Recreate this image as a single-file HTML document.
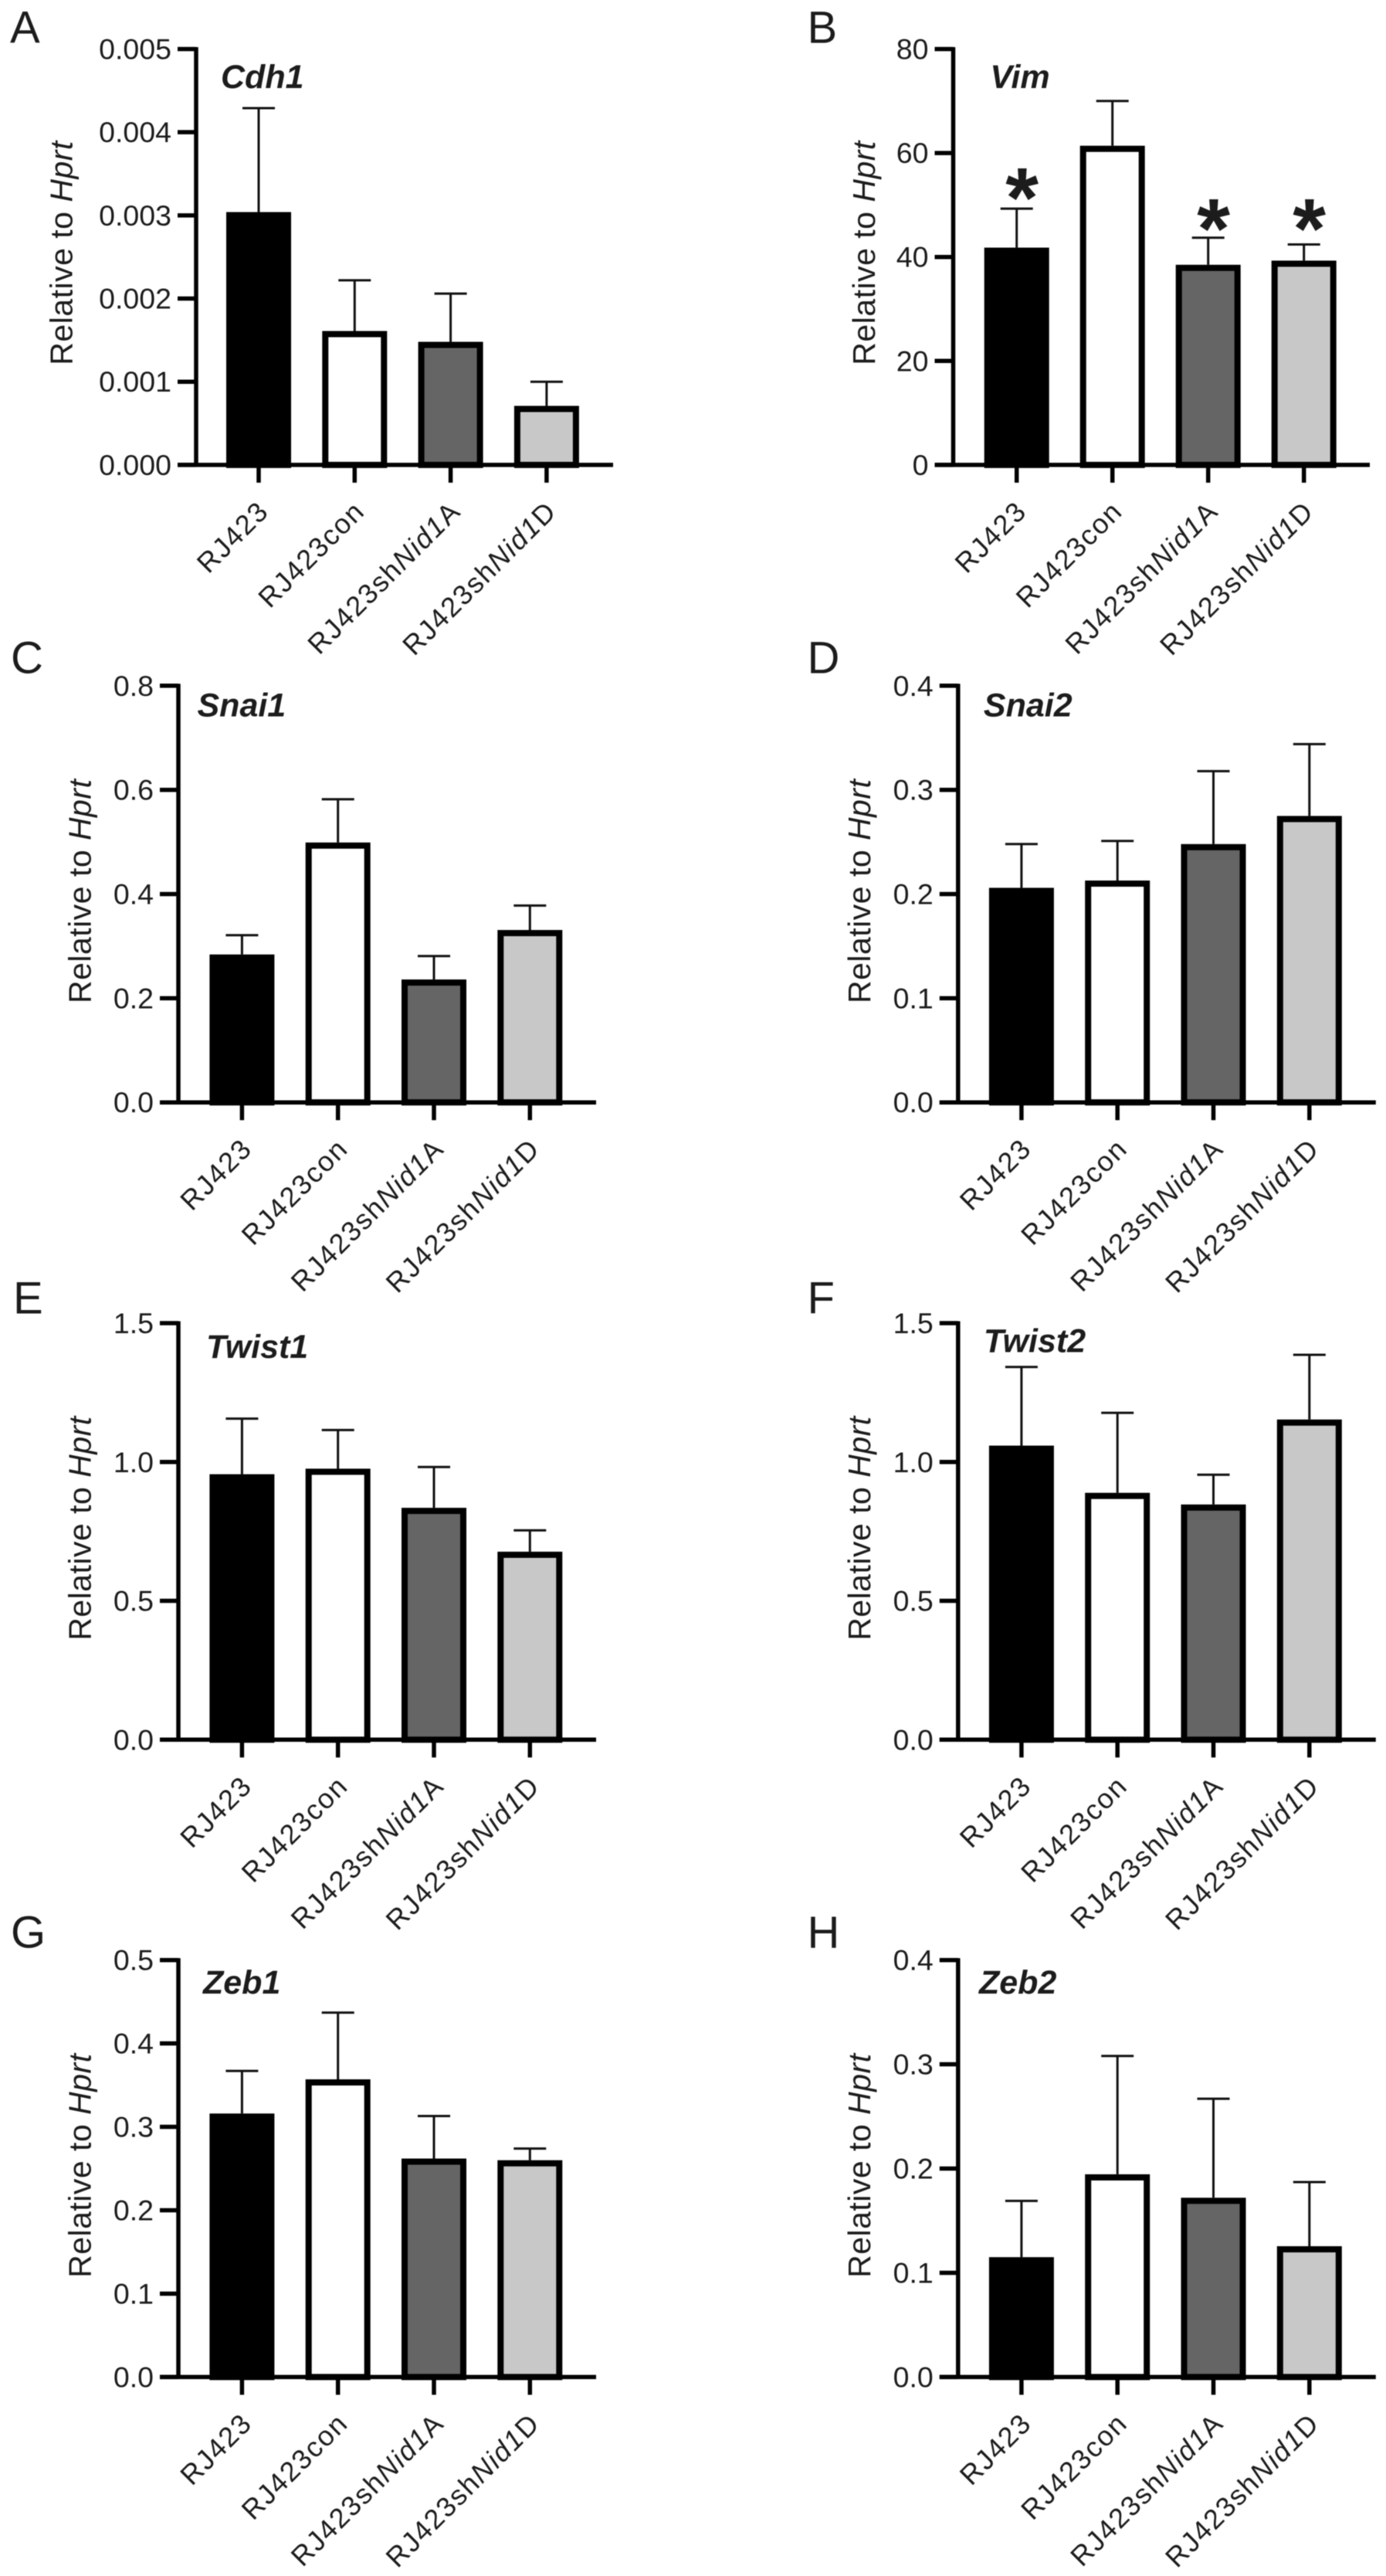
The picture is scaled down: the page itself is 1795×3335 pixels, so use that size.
<!DOCTYPE html>
<html lang="en">
<head>
<meta charset="utf-8">
<title>Relative expression of EMT genes to Hprt</title>
<style>
  html, body { margin: 0; padding: 0; background: #fff; }
  #figure { display: block; width: 1795px; height: 3335px; filter: blur(0.6px); }
  text { font-family: "Liberation Sans", sans-serif; fill: #1c1c1c; }
</style>
</head>
<body>
<svg id="figure" xmlns="http://www.w3.org/2000/svg" width="1795" height="3335" viewBox="0 0 1795 3335"></svg>
<script>
const categories = ['RJ423', 'RJ423con', 'RJ423shNid1A', 'RJ423shNid1D'];

const cdh1Means = [0.00304, 0.00161, 0.00148, 0.00071];
const cdh1Errors = [0.00429, 0.00222, 0.00206, 0.00100];
const cdh1Ticks = ['0.000', '0.001', '0.002', '0.003', '0.004', '0.005'];

const vimMeans = [41.8, 61.4, 38.5, 39.3];
const vimErrors = [49.3, 70.0, 43.7, 42.4];
const vimTicks = ['0', '20', '40', '60', '80'];
const vimStars = [53.6, null, 47.7, 47.7];

const snai1Means = [0.284, 0.499, 0.236, 0.331];
const snai1Errors = [0.321, 0.582, 0.281, 0.378];
const snai1Ticks = ['0.0', '0.2', '0.4', '0.6', '0.8'];

const snai2Means = [0.206, 0.213, 0.248, 0.275];
const snai2Errors = [0.248, 0.251, 0.318, 0.344];
const snai2Ticks = ['0.0', '0.1', '0.2', '0.3', '0.4'];

const twist1Means = [0.956, 0.976, 0.835, 0.677];
const twist1Errors = [1.156, 1.115, 0.982, 0.754];
const twist1Ticks = ['0.0', '0.5', '1.0', '1.5'];

const twist2Means = [1.059, 0.889, 0.847, 1.153];
const twist2Errors = [1.342, 1.177, 0.954, 1.386];
const twist2Ticks = ['0.0', '0.5', '1.0', '1.5'];

const zeb1Means = [0.316, 0.357, 0.262, 0.260];
const zeb1Errors = [0.367, 0.437, 0.313, 0.274];
const zeb1Ticks = ['0.0', '0.1', '0.2', '0.3', '0.4', '0.5'];

const zeb2Means = [0.115, 0.1945, 0.172, 0.1255];
const zeb2Errors = [0.169, 0.308, 0.267, 0.187];
const zeb2Ticks = ['0.0', '0.1', '0.2', '0.3', '0.4'];

const panels = [
  { letter: 'A', gene: 'Cdh1', means: cdh1Means, errors: cdh1Errors, ticks: cdh1Ticks, stars: null,
    frame: { axisX: 254, top: 63.5, zero: 601.9, first: 335, step: 124.3, right: 794 },
    letterPos: [13, 55.6], genePos: [286, 113.8], titlePos: [93.6, 472.7] },
  { letter: 'B', gene: 'Vim', means: vimMeans, errors: vimErrors, ticks: vimTicks, stars: vimStars,
    frame: { axisX: 1234.5, top: 63.5, zero: 601.9, first: 1316.7, step: 124, right: 1774 },
    letterPos: [1045.5, 55.6], genePos: [1282.4, 113.8], titlePos: [1132.9, 472.7] },
  { letter: 'C', gene: 'Snai1', means: snai1Means, errors: snai1Errors, ticks: snai1Ticks, stars: null,
    frame: { axisX: 231, top: 887.8, zero: 1427.2, first: 313.4, step: 124.3, right: 772 },
    letterPos: [14, 871.4], genePos: [255.5, 927.5], titlePos: [117.7, 1299] },
  { letter: 'D', gene: 'Snai2', means: snai2Means, errors: snai2Errors, ticks: snai2Ticks, stars: null,
    frame: { axisX: 1240.8, top: 887.8, zero: 1427.2, first: 1322.9, step: 124.3, right: 1781.8 },
    letterPos: [1045.5, 871.4], genePos: [1273.9, 927.5], titlePos: [1127, 1299] },
  { letter: 'E', gene: 'Twist1', means: twist1Means, errors: twist1Errors, ticks: twist1Ticks, stars: null,
    frame: { axisX: 231, top: 1713, zero: 2252.3, first: 313.4, step: 124.3, right: 772 },
    letterPos: [17, 1700.3], genePos: [267, 1758], titlePos: [117.7, 2123.8] },
  { letter: 'F', gene: 'Twist2', means: twist2Means, errors: twist2Errors, ticks: twist2Ticks, stars: null,
    frame: { axisX: 1240.8, top: 1713, zero: 2252.3, first: 1322.9, step: 124.3, right: 1781.8 },
    letterPos: [1045.5, 1700.3], genePos: [1273.9, 1750.6], titlePos: [1127, 2123.8] },
  { letter: 'G', gene: 'Zeb1', means: zeb1Means, errors: zeb1Errors, ticks: zeb1Ticks, stars: null,
    frame: { axisX: 231, top: 2537.6, zero: 3077.4, first: 313.4, step: 124.3, right: 772 },
    letterPos: [14, 2521.4], genePos: [263, 2581], titlePos: [117.7, 2948.9] },
  { letter: 'H', gene: 'Zeb2', means: zeb2Means, errors: zeb2Errors, ticks: zeb2Ticks, stars: null,
    frame: { axisX: 1240.8, top: 2537.6, zero: 3077.4, first: 1322.9, step: 124.3, right: 1781.8 },
    letterPos: [1045.5, 2521.4], genePos: [1268, 2581], titlePos: [1127, 2948.9] }
];

const barFills = ['#000000', '#ffffff', '#656565', '#c8c8c8'];
const NS = 'http://www.w3.org/2000/svg';
const root = document.getElementById('figure');

function make(tag, attrs, parent) {
  const node = document.createElementNS(NS, tag);
  Object.keys(attrs).forEach(function (key) { node.setAttribute(key, attrs[key]); });
  parent.appendChild(node);
  return node;
}

function slug(value) {
  return String(value).toLowerCase().replace(/[^a-z0-9]+/g, '-');
}

panels.forEach(function (panel) {
  const f = panel.frame;
  const tickValues = panel.ticks.map(Number);
  const yMax = Math.max.apply(null, tickValues);
  const yScale = function (v) { return f.zero - (v / yMax) * (f.zero - f.top); };
  const xScale = function (i) { return f.first + i * f.step; };
  const id = slug(panel.gene);

  const group = make('g', {}, root);
  
  

  const letter = make('text', { x: panel.letterPos[0], y: panel.letterPos[1], 'font-size': 58 }, group);
  letter.textContent = panel.letter;
  
  

  const gene = make('text', { x: panel.genePos[0], y: panel.genePos[1], 'font-size': 43, 'font-weight': 'bold', 'font-style': 'italic' }, group);
  gene.textContent = panel.gene;
  
  

  const yTitle = make('text', {
    transform: 'translate(' + panel.titlePos[0] + ',' + panel.titlePos[1] + ') rotate(-90)',
    'font-size': 41, textLength: 290, lengthAdjust: 'spacing'
  }, group);
  
  
  const yPlain = make('tspan', {}, yTitle);
  yPlain.textContent = 'Relative to ';
  const yItalic = make('tspan', { 'font-style': 'italic' }, yTitle);
  yItalic.textContent = 'Hprt';

  panel.means.forEach(function (mean, i) {
    const cx = xScale(i);

    const errLine = make('line', { x1: cx, x2: cx, y1: yScale(mean), y2: yScale(panel.errors[i]), stroke: '#111', 'stroke-width': 3 }, group);
    
    

    const errCap = make('line', { x1: cx - 21, x2: cx + 21, y1: yScale(panel.errors[i]), y2: yScale(panel.errors[i]), stroke: '#111', 'stroke-width': 3 }, group);
    
    

    const top = yScale(mean) + 4;
    const bar = make('rect', { x: cx - 38, y: top, width: 76, height: Math.max(0, f.zero - top), fill: barFills[i], stroke: '#000', 'stroke-width': 8 }, group);
    
    

    if (panel.stars && panel.stars[i] !== null) {
      const star = make('text', { x: cx + 7, y: yScale(panel.stars[i]) + 53, 'font-size': 110, 'font-weight': 'bold', 'text-anchor': 'middle' }, group);
      star.textContent = '*';
      
      
    }

    const xTick = make('line', { x1: cx, x2: cx, y1: f.zero, y2: f.zero + 23, stroke: '#000', 'stroke-width': 5.5 }, group);
    
    

    const label = make('text', {
      transform: 'translate(' + (cx + 15) + ',' + (f.zero + 62) + ') rotate(-45)',
      'font-size': 36, 'letter-spacing': 1.8, 'text-anchor': 'end'
    }, group);
    
    
    categories[i].split(/(Nid1)/).forEach(function (piece) {
      if (!piece) return;
      const span = make('tspan', piece === 'Nid1' ? { 'font-style': 'italic' } : {}, label);
      span.textContent = piece;
    });
  });

  const yAxis = make('line', { x1: f.axisX, x2: f.axisX, y1: f.top - 2.5, y2: f.zero + 2.5, stroke: '#000', 'stroke-width': 5.5 }, group);
  
  

  const xAxis = make('line', { x1: f.axisX - 24, x2: f.right, y1: f.zero, y2: f.zero, stroke: '#000', 'stroke-width': 5.5 }, group);
  
  

  panel.ticks.forEach(function (tick, i) {
    const ty = yScale(tickValues[i]);

    const yTick = make('line', { x1: f.axisX - 24, x2: f.axisX, y1: ty, y2: ty, stroke: '#000', 'stroke-width': 5.5 }, group);
    
    

    const tickLabel = make('text', { x: f.axisX - 32, y: ty + 13, 'font-size': 37.5, 'text-anchor': 'end' }, group);
    tickLabel.textContent = tick;
    
    
  });
});
</script>
</body>
</html>
